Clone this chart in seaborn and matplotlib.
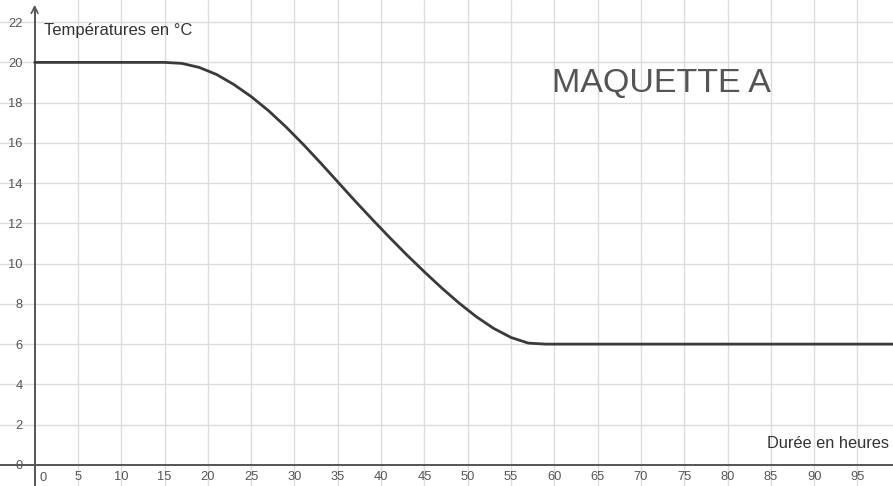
import matplotlib
matplotlib.use("Agg")
import matplotlib.pyplot as plt
import seaborn as sns
import pandas as pd

# Data
hours = [0, 15, 17, 19, 21, 23, 25, 27, 29, 31, 33, 35, 37, 39, 41, 43, 45,
         47, 49, 51, 53, 55, 57, 59, 100]
temps = [20, 20, 19.95, 19.75, 19.4, 18.9, 18.3, 17.6, 16.8, 15.93, 15.01,
         14.06, 13.11, 12.19, 11.29, 10.42, 9.59, 8.79, 8.04, 7.36, 6.78,
         6.33, 6.05, 6.0, 6.0]
x_ticks = [5, 10, 15, 20, 25, 30, 35, 40, 45, 50, 55, 60, 65, 70, 75, 80, 85, 90, 95]
x_tick_labels = [str(v) for v in x_ticks]
y_ticks = [0, 2, 4, 6, 8, 10, 12, 14, 16, 18, 20, 22]
y_tick_labels = [str(v) for v in y_ticks]

df = pd.DataFrame({"Durée": hours, "Température": temps})

sns.set_theme(style="white")
plt.rcParams["font.family"] = ["Liberation Sans", "DejaVu Sans"]

fig = plt.figure(figsize=(8.93, 4.86), dpi=100)
ax = fig.add_axes([0, 0, 1, 1])

ax.set_xlim(-4.0, 99.1)
ax.set_ylim(-1.05, 23.1)

# grid
for xv in x_ticks:
    ax.axvline(xv, color="#dcdcdc", lw=1.0, zorder=0)
for yv in y_ticks[1:]:
    ax.axhline(yv, color="#dcdcdc", lw=1.0, zorder=0)

sns.lineplot(data=df, x="Durée", y="Température", ax=ax, color="#3a3a3a",
             linewidth=2.0, zorder=3)

# axes as in GeoGebra
for s in ["top", "right"]:
    ax.spines[s].set_visible(False)
ax.spines["left"].set_position(("data", 0))
ax.spines["bottom"].set_position(("data", 0))
ax.spines["left"].set_color("#555555")
ax.spines["bottom"].set_color("#555555")
ax.spines["left"].set_linewidth(1.4)
ax.spines["bottom"].set_linewidth(1.4)
ax.spines["left"].set_bounds(-1.05, 22.7)
ax.spines["bottom"].set_bounds(-4.0, 99.1)

ax.set_xticks(x_ticks)
ax.set_xticklabels(x_tick_labels)
ax.set_yticks(y_ticks)
ax.set_yticklabels(y_tick_labels)
ax.tick_params(axis="both", labelsize=9.3, colors="#555555", length=3,
               direction="inout", width=1)
ax.tick_params(axis="x", pad=3)
ax.tick_params(axis="y", pad=7)
ax.set_xlabel("")
ax.set_ylabel("")

# zero label of x axis
ax.text(0.95, -0.35, "0", fontsize=9.3, color="#555555", ha="center", va="top")

# arrow at top of y axis
ax.annotate("", xy=(0, 23.0), xytext=(0, 22.3),
            arrowprops=dict(arrowstyle="->", color="#555555", lw=1.2))

ax.text(1.1, 21.6, "Températures en °C", fontsize=12, color="#333333",
        ha="left", va="center")
ax.text(98.6, 1.05, "Durée en heures", fontsize=11.8, color="#333333",
        ha="right", va="center")
ax.text(59.7, 18.95, "MAQUETTE A", fontsize=24.5, color="#555555",
        ha="left", va="center")

fig.savefig("out.png", dpi=100)
